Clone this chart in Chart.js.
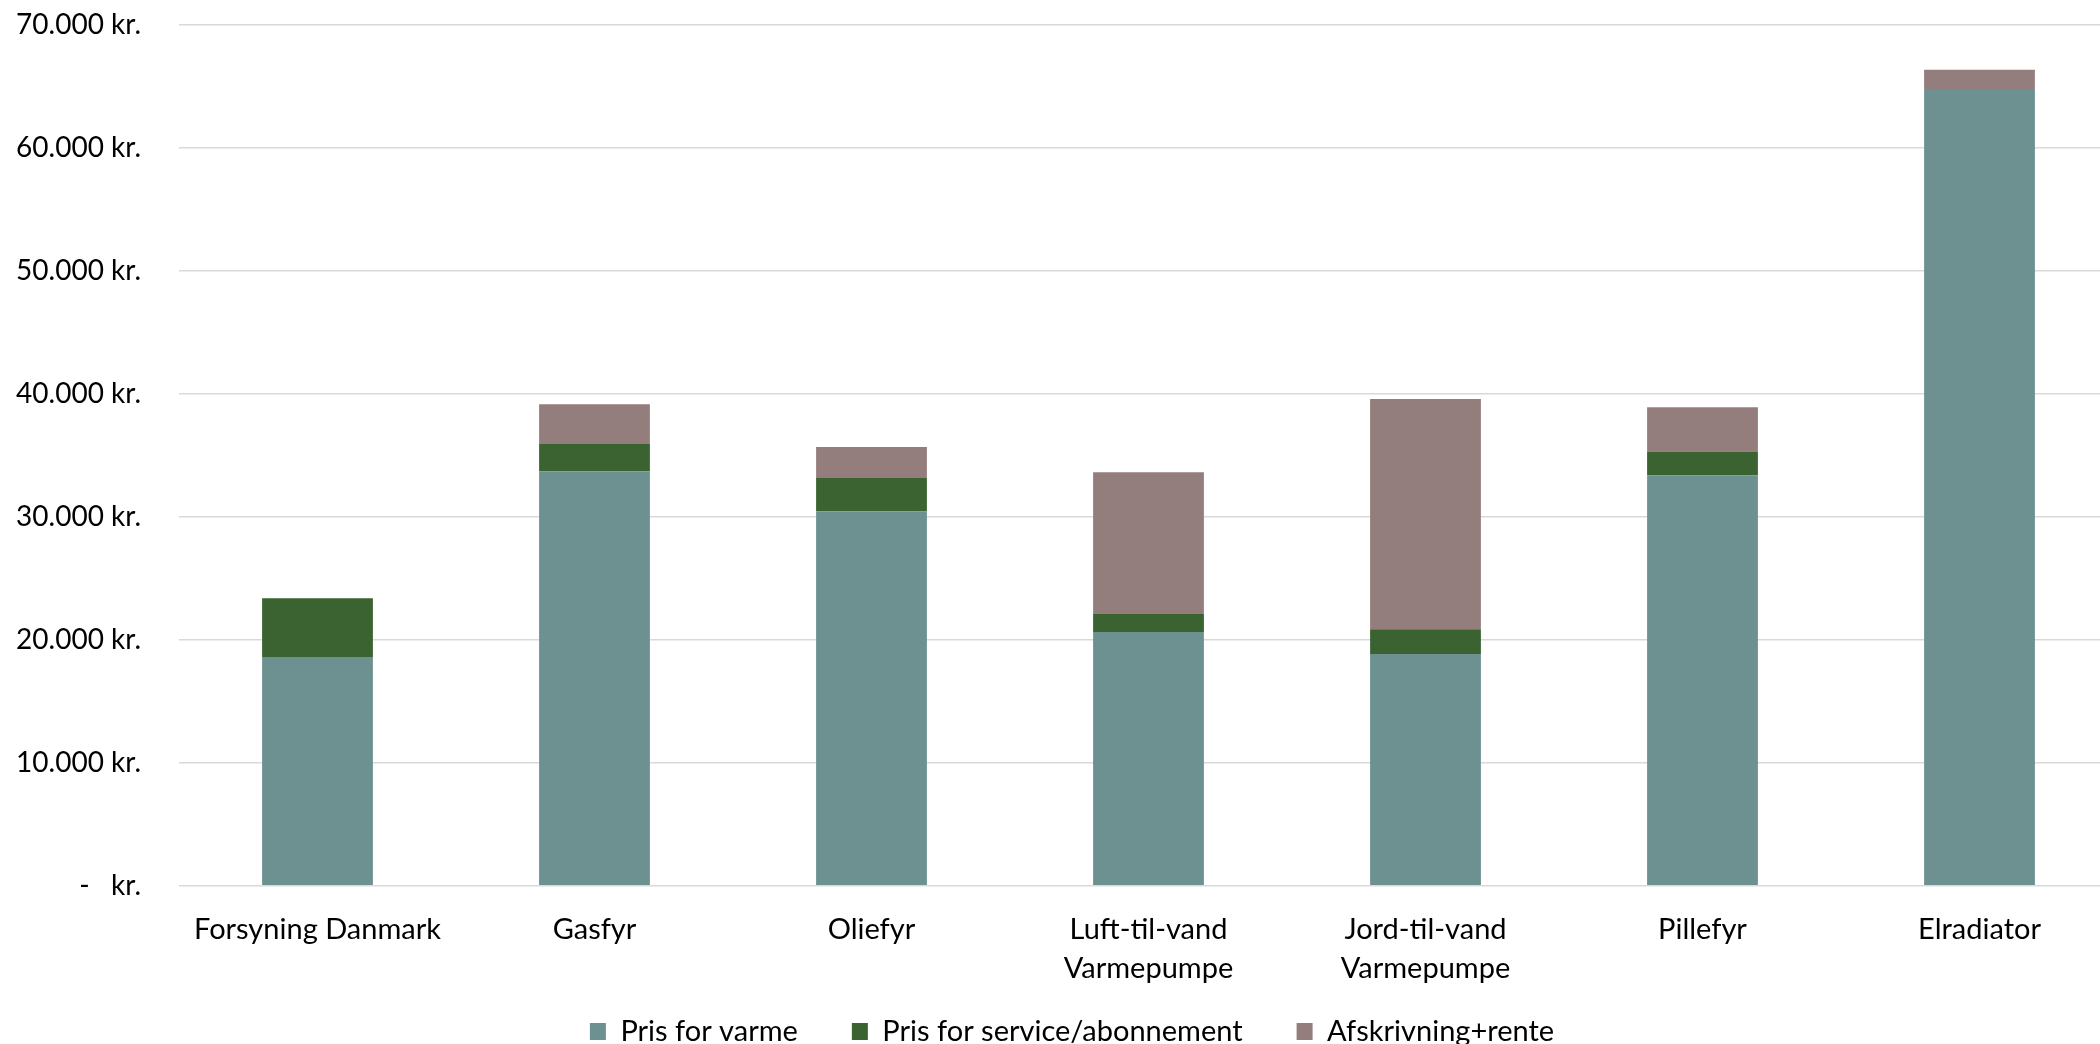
<!DOCTYPE html>
<html>
<head>
<meta charset="utf-8">
<script src="https://cdn.jsdelivr.net/npm/chart.js@4"></script>
<style>
  html, body { margin: 0; padding: 0; background: #ffffff; overflow: hidden; }
  #wrap { width: 2118px; height: 1056px; }
</style>
</head>
<body>
<div id="wrap"><canvas id="c" width="2118" height="1056"></canvas></div>
<script>
const categories = [
  'Forsyning Danmark',
  'Gasfyr',
  'Oliefyr',
  ['Luft-til-vand', 'Varmepumpe'],
  ['Jord-til-vand', 'Varmepumpe'],
  'Pillefyr',
  'Elradiator'
];
const seriesNames = ['Pris for varme', 'Pris for service/abonnement', 'Afskrivning+rente'];
const prisVarme   = [18600, 33700, 30460, 20630, 18840, 33390, 64720];
const prisService = [4770, 2230, 2690, 1460, 2010, 1930, 0];
const afskrivning = [0, 3230, 2520, 11540, 18740, 3600, 1650];
const yTickValues = [0, 10000, 20000, 30000, 40000, 50000, 60000, 70000];
const yTickLabels = ['-   kr.', '10.000 kr.', '20.000 kr.', '30.000 kr.', '40.000 kr.', '50.000 kr.', '60.000 kr.', '70.000 kr.'];

const colors = ['#6c9190', '#3a6331', '#937e7d'];
const FONT = 'Lato';

const shiftLegend = {
  id: 'shiftLegend',
  afterLayout(c) {
    if (c.legend) { c.legend.left += 13; c.legend.right += 13; }
  }
};

new Chart(document.getElementById('c'), {
  type: 'bar',
  data: {
    labels: categories,
    datasets: [
      { label: seriesNames[0], data: prisVarme,   backgroundColor: colors[0] },
      { label: seriesNames[1], data: prisService, backgroundColor: colors[1] },
      { label: seriesNames[2], data: afskrivning, backgroundColor: colors[2] }
    ]
  },
  plugins: [shiftLegend],
  options: {
    responsive: false,
    animation: false,
    devicePixelRatio: 1,
    layout: { padding: { top: 25, left: 0, right: 0, bottom: 0 } },
    datasets: { bar: { barPercentage: 0.4, categoryPercentage: 1.0, borderWidth: 0 } },
    plugins: {
      tooltip: { enabled: false },
      legend: {
        position: 'bottom',
        labels: {
          color: '#000000',
          font: { family: FONT, size: 29 },
          boxWidth: 16,
          boxHeight: 17,
          padding: 2,
          generateLabels: (c) => {
            const items = Chart.defaults.plugins.legend.labels.generateLabels(c);
            items.forEach((it, i) => { if (i < items.length - 1) it.text = it.text + '       '; });
            return items;
          }
        }
      }
    },
    scales: {
      x: {
        stacked: true,
        grid: { display: false, drawTicks: false },
        border: { display: false },
        ticks: {
          color: '#000000',
          font: { family: FONT, size: 29, lineHeight: 1.35 },
          padding: 24,
          maxRotation: 0,
          autoSkip: false
        },
        afterFit: (s) => { s.height = 129.3; s.paddingLeft = 0; s.paddingRight = 0; }
      },
      y: {
        stacked: true,
        min: 0,
        max: 70000,
        afterBuildTicks: (s) => { s.ticks = yTickValues.map(v => ({ value: v })); },
        grid: { color: '#d9d9d9', lineWidth: 1.6, drawTicks: false },
        border: { display: false },
        ticks: {
          color: '#000000',
          font: { family: FONT, size: 28 },
          padding: 38,
          callback: (v, i) => yTickLabels[i]
        },
        afterFit: (s) => { s.width = 179; s.paddingTop = 0; s.paddingBottom = 0; }
      }
    }
  }
});
</script>
</body>
</html>
